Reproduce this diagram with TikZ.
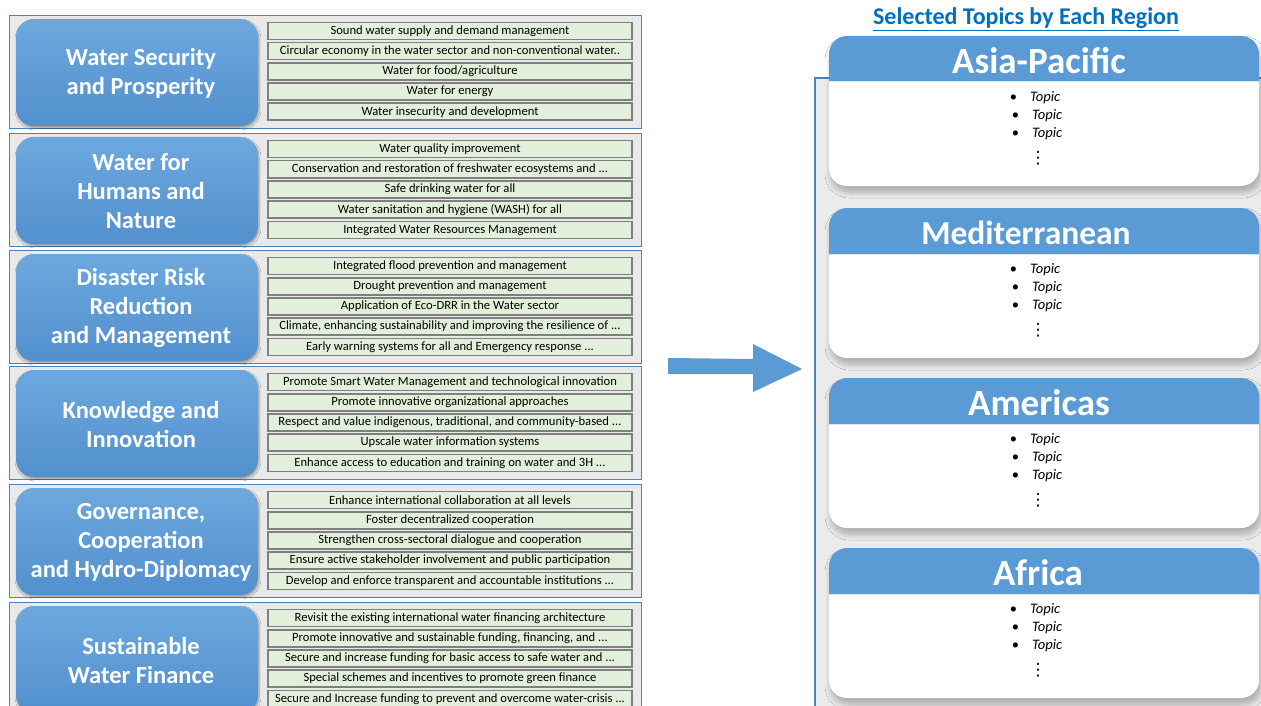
\documentclass[tikz,border=0pt]{standalone}
\usepackage{fontspec}
\setmainfont{Carlito}
\newfontfamily\dejavu{DejaVu Sans}
\usetikzlibrary{shadows.blur}
\definecolor{hdrblue}{HTML}{5B9BD5}
\definecolor{themetop}{HTML}{6DA8DE}
\definecolor{themebot}{HTML}{5290CE}
\definecolor{framecol}{HTML}{4F81BD}
\definecolor{framefill}{HTML}{E9E9E9}
\definecolor{topicfill}{HTML}{E2EFDA}
\definecolor{topicline}{HTML}{7F7F7F}
\definecolor{titleblue}{HTML}{0070C0}
\definecolor{panelfill}{HTML}{EBEBEB}
\tikzset{
  frame/.style={draw=framecol, line width=1.2pt, fill=framefill, inner sep=0pt},
  theme/.style={rounded corners=18pt, top color=themetop, bottom color=themebot,
    minimum width=242pt, minimum height=107pt, inner sep=0pt,
    blur shadow={shadow xshift=1pt, shadow yshift=-2pt, shadow blur steps=6, shadow opacity=35}},
  themetext/.style={align=center, text=white, inner sep=0pt,
    font=\bfseries\fontsize{24.5}{29}\selectfont},
  topicbox/.style={draw=topicline, line width=1.6pt, fill=topicfill,
    minimum width=364pt, minimum height=17pt, inner sep=0pt,
    font=\fontsize{12.6}{14}\selectfont},
  regname/.style={text=white, inner sep=0pt},
  topicline/.style={font=\fontsize{14.5}{17}\selectfont, inner sep=0pt},
  cardshadow/.style={blur shadow={shadow xshift=2pt, shadow yshift=-6pt, shadow blur steps=10, shadow blur radius=6pt, shadow opacity=28}},
}
\newcommand\topicgroup[8]{%
  \node[frame, anchor=north west, minimum width=632pt, minimum height=113pt] (#1) at (9,#2) {};
  \node[theme] (#1-t) at (137,{#2+57.5}) {};
  \node[themetext] (#1-l) at (141,{#2+58}) {#3};
  \node[topicbox] (#1-a) at (450,{#2+16}) {#4};
  \node[topicbox] (#1-b) at (450,{#2+36.2}) {#5};
  \node[topicbox] (#1-c) at (450,{#2+56.4}) {#6};
  \node[topicbox] (#1-d) at (450,{#2+76.6}) {#7};
  \node[topicbox] (#1-e) at (450,{#2+96.8}) {#8};
}
\newcommand\regioncard[5]{%
  \path[fill=white, rounded corners=18pt, cardshadow] (829,#2) rectangle (1259,{#2+150});
  \begin{scope}
    \clip (820,{#2-2}) rectangle (1270,{#2+46});
    \fill[hdrblue, rounded corners=18pt] (829,#2) rectangle (1259,{#2+90});
  \end{scope}
  \draw[white!75!hdrblue, line width=1pt] (829,{#2+46}) -- (1259,{#2+46});
  \node[regname, font=\bfseries\fontsize{#4}{40}\selectfont] (#1) at (#5,{#2+25}) {#3};
  \node[topicline] (#1-1) at (1035,{#2+62}) {\textbullet\hspace{13pt}\textit{Topic}};
  \node[topicline] (#1-2) at (1037,{#2+80}) {\textbullet\hspace{13pt}\textit{Topic}};
  \node[topicline] (#1-3) at (1037,{#2+98}) {\textbullet\hspace{13pt}\textit{Topic}};
  \node[inner sep=0pt, font=\dejavu\fontsize{17}{17}\selectfont] (#1-4) at (1038,{#2+122}) {⋮};
}
\begin{document}
\begin{tikzpicture}[x=1pt,y=-1pt]
\useasboundingbox (0,0) rectangle (1261,706);
\fill[white] (0,0) rectangle (1261,706);

\topicgroup{g1}{15}{Water Security\\and Prosperity}
  {Sound water supply and demand management}
  {Circular economy in the water sector and non-conventional water..}
  {Water for food/agriculture}
  {Water for energy}
  {Water insecurity and development}
\topicgroup{g2}{133}{Water for\\Humans and\\Nature}
  {Water quality improvement}
  {Conservation and restoration of freshwater ecosystems and ...}
  {Safe drinking water for all}
  {Water sanitation and hygiene (WASH) for all}
  {Integrated Water Resources Management}
\topicgroup{g3}{250}{Disaster Risk\\Reduction\\and Management}
  {Integrated flood prevention and management}
  {Drought prevention and management}
  {Application of Eco-DRR in the Water sector}
  {Climate, enhancing sustainability and improving the resilience of ...}
  {Early warning systems for all and Emergency response ...}
\topicgroup{g4}{366}{Knowledge and\\Innovation}
  {Promote Smart Water Management and technological innovation}
  {Promote innovative organizational approaches}
  {Respect and value indigenous, traditional, and community-based ...}
  {Upscale water information systems}
  {Enhance access to education and training on water and 3H ...}
\topicgroup{g5}{484}{Governance,\\Cooperation\\and Hydro-Diplomacy}
  {Enhance international collaboration at all levels}
  {Foster decentralized cooperation}
  {Strengthen cross-sectoral dialogue and cooperation}
  {Ensure active stakeholder involvement and public participation}
  {Develop and enforce transparent and accountable institutions ...}
\topicgroup{g6}{602}{Sustainable\\Water Finance}
  {Revisit the existing international water financing architecture}
  {Promote innovative and sustainable funding, financing, and ...}
  {Secure and increase funding for basic access to safe water and ...}
  {Special schemes and incentives to promote green finance}
  {Secure and Increase funding to prevent and overcome water-crisis ...}

% arrow
\fill[hdrblue] (668,358) -- (753,359) -- (753,344) -- (802,369) -- (753,392) -- (753,374) -- (668,374) -- cycle;

% right panel
\fill[panelfill] (815,78) rectangle (1275,720);
\draw[framecol, line width=1.2pt] (815,720) -- (815,78) -- (1275,78);

\node[text=titleblue, font=\bfseries\fontsize{24}{28}\selectfont, inner sep=0pt] (title) at (1026,19) {\underline{Selected Topics by Each Region}};

\regioncard{asia}{36}{Asia-Pacific}{37}{1039}
\regioncard{med}{208}{Mediterranean}{33.5}{1026}
\regioncard{amer}{378}{Americas}{37}{1039}
\regioncard{afr}{548}{Africa}{37}{1038}
\end{tikzpicture}
\end{document}
